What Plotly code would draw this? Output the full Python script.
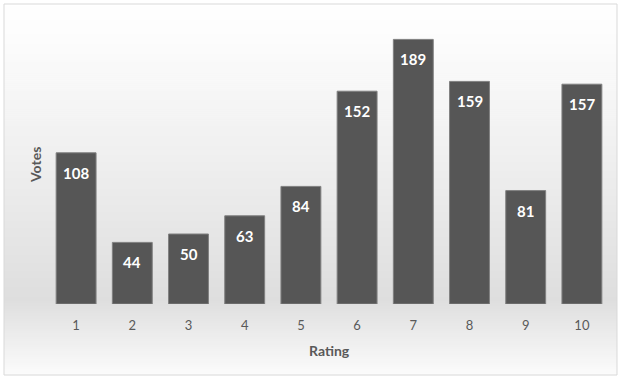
import plotly.graph_objects as go

ratings = ["1", "2", "3", "4", "5", "6", "7", "8", "9", "10"]
votes = [108, 44, 50, 63, 84, 152, 189, 159, 81, 157]

W, H = 621, 379
fig = go.Figure()
fig.add_trace(go.Bar(
    x=ratings, y=votes,
    marker=dict(color="#565656", line=dict(color="#808080", width=1)),
    width=0.71, cliponaxis=False,
))

# background gradient bands (vertical)
def gray_at(y):
    stops = [(0, 255), (40, 252), (150, 240), (300, 222), (330, 234), (379, 253)]
    for (y0, g0), (y1, g1) in zip(stops, stops[1:]):
        if y0 <= y <= y1:
            return g0 + (g1 - g0) * (y - y0) / (y1 - y0)
    return 255

shapes = []
n = 185
for i in range(n):
    y0 = 4 + (H - 8) * i / n
    y1 = 4 + (H - 8) * (i + 1) / n
    g = int(round(gray_at((y0 + y1) / 2)))
    shapes.append(dict(type="rect", xref="paper", yref="paper", layer="below",
                       x0=-44 / 562, x1=1 + 7 / 562,
                       y0=1 - (y1 - 24) / 280 - 0.002, y1=1 - (y0 - 24) / 280,
                       fillcolor=f"rgb({g},{g},{g})", line=dict(width=0)))
shapes.append(dict(type="rect", xref="paper", yref="paper", layer="above",
                   x0=-44 / 562, x1=1 + 7 / 562,
                   y0=1 - (375 - 24) / 280, y1=1 - (4 - 24) / 280,
                   line=dict(color="#d9d9d9", width=1), fillcolor="rgba(0,0,0,0)"))

annotations = [
    dict(text="<b>Rating</b>", xref="paper", yref="paper",
         x=0.5, y=1 - (350 - 24) / 280, xanchor="center", yanchor="middle",
         showarrow=False, font=dict(size=14, color="#595959")),
    dict(text="<b>Votes</b>", xref="paper", yref="paper", textangle=-90,
         x=(35 - 48) / 562, y=1 - (165 - 24) / 280,
         xanchor="center", yanchor="middle",
         showarrow=False, font=dict(size=14, color="#595959")),
]
for i, v in enumerate(votes):
    annotations.append(dict(text=f"<b>{v}</b>", x=i, y=v, xref="x", yref="y",
                            yanchor="top", yshift=-9, showarrow=False,
                            font=dict(family="Lato", size=15, color="white")))

fig.update_layout(
    width=W, height=H,
    margin=dict(l=48, r=11, t=24, b=75),
    paper_bgcolor="white", plot_bgcolor="rgba(0,0,0,0)",
    showlegend=False, shapes=shapes, annotations=annotations,
    font=dict(family="Lato", color="#595959"),
    xaxis=dict(type="category", range=[-0.5, len(ratings) - 0.5],
               showgrid=False, zeroline=False, showline=False,
               tickfont=dict(size=13, color="#595959"), ticklabelstandoff=12),
    yaxis=dict(range=[0, 200], showgrid=False, zeroline=False,
               showticklabels=False, showline=False),
)
fig.write_html("out.html")
